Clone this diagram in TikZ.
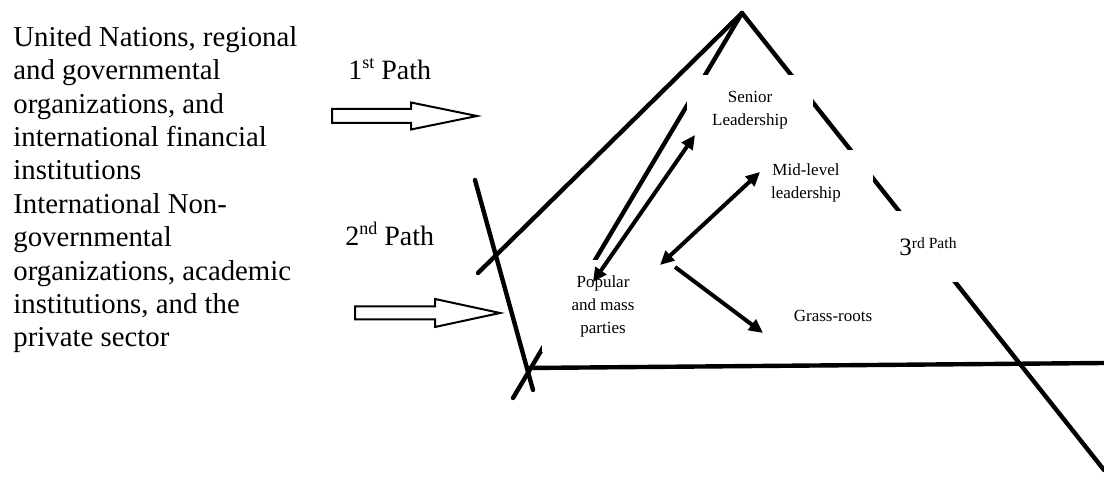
\documentclass[tikz,border=0pt]{standalone}
\usepackage{fontspec}
\setmainfont{LiberationSerif}[Extension=.ttf,UprightFont=*-Regular,BoldFont=*-Bold,ItalicFont=*-Italic,BoldItalicFont=*-BoldItalic]
\usetikzlibrary{arrows.meta}

\newcommand{\ordsup}[1]{\raisebox{5.5pt}{\fontsize{9}{9}\selectfont #1}}

\begin{document}
\begin{tikzpicture}[x=0.5pt,y=-0.5pt,>={Triangle[length=7pt,width=6.5pt]},
  frame/.style={line width=2.2pt,line cap=round},
  lbox/.style={fill=white,inner sep=0pt,align=center,font=\fontsize{8.5}{11.5}\selectfont},
  link/.style={line width=2pt},
  fat/.style={draw,line width=1pt,fill=white,line join=miter}]
\useasboundingbox (0,0) rectangle (1104,480);
% pyramid and crossing lines
\coordinate (apex) at (742,13);
\coordinate (outl) at (478,273);
\coordinate (inl) at (513,398);
\coordinate (outr) at (1104,470);
\coordinate (cr1) at (475,180);
\coordinate (cr2) at (533,390);
\coordinate (base1) at (527,368);
\coordinate (base2) at (1104,363);
\draw[frame] (apex)--(outl);
\draw[frame] (apex)--(inl);
\draw[frame] (apex)--(outr);
\draw[frame] (cr1)--(cr2);
\draw[frame] (base1)--(base2);
% levels
\node[lbox,minimum width=63pt,minimum height=35pt] (senior) at (750,110) {Senior\\Leadership};
\node[lbox,minimum width=67pt,minimum height=33pt] (mid) at (806,183) {Mid-level\\leadership};
\node[lbox,minimum width=61pt,minimum height=46pt] (popular) at (603,306) {Popular\\and mass\\parties};
\node[lbox] (grass) at (833,316) {Grass-roots};
\node[lbox,minimum width=60pt,minimum height=35.5pt,font=\fontsize{12.5}{14}\selectfont] (third) at (928,247) {3\raisebox{3.5pt}{\fontsize{7.8}{8}\selectfont rd Path}};
% links
\coordinate (ps1) at (593,282);
\coordinate (ps2) at (695,135);
\coordinate (pm1) at (660,265);
\coordinate (pm2) at (760,172);
\coordinate (pg1) at (675,267);
\coordinate (pg2) at (763,333);
\draw[link,<->] (ps1)--(ps2);
\draw[link,<->] (pm1)--(pm2);
\draw[link,->] (pg1)--(pg2);
% actors
\node[anchor=north west,align=left,inner sep=0pt,font=\fontsize{14.4}{16.7}\selectfont] (actors) at (13,26)
  {United Nations, regional\\and governmental\\organizations, and\\international financial\\institutions\\
   International Non-\\governmental\\organizations, academic\\institutions, and the\\private sector};
\node[anchor=base west,inner sep=0pt,font=\fontsize{14}{16}\selectfont] (path1) at (348,80) {1\ordsup{st} Path};
\node[anchor=base west,inner sep=0pt,font=\fontsize{14}{16}\selectfont] (path2) at (345,246) {2\ordsup{nd} Path};
% block arrows
\draw[fat] (332,109)--(411,109)--(411,102.5)--(477,116)--(411,129.5)--(411,123)--(332,123)--cycle;
\draw[fat] (355,306.5)--(435,306.5)--(435,299)--(500,313)--(435,327)--(435,319.5)--(355,319.5)--cycle;
\end{tikzpicture}
\end{document}
